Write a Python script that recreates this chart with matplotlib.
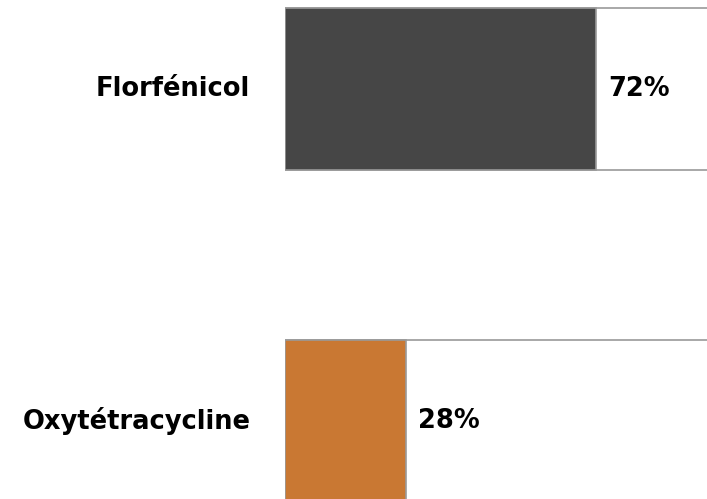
import matplotlib
matplotlib.use("Agg")
import matplotlib.pyplot as plt

# share of antibiotic use
categories = ["Florfénicol", "Oxytétracycline"]
values = [72, 28]
colors = ["#464646", "#c97833"]

W, H = 707, 499
fig = plt.figure(figsize=(W / 100, H / 100), dpi=100)

# x: 0 -> px 285, 100 -> px 717 (runs past the right edge)
left, right = 285, 717
ax = fig.add_axes([left / W, 0, (right - left) / W, 1])

ypos = list(range(len(categories)))
bar_h = 162 / 332

ax.barh(ypos, [100] * len(values), height=bar_h, color="white",
        edgecolor="#9a9a9a", linewidth=1.2, zorder=1)
ax.barh(ypos, values, height=bar_h, color=colors,
        edgecolor="#9a9a9a", linewidth=1.2, zorder=2)

for y, v, name in zip(ypos, values, categories):
    ax.annotate(f"{v}%", xy=(v, y), xytext=(9, 0), textcoords="offset points",
                ha="left", va="center", fontsize=18.5, fontweight="bold",
                color="black", zorder=3)
    ax.annotate(name, xy=(0, y), xytext=(-25, 0), textcoords="offset points",
                ha="right", va="center", fontsize=18.5, fontweight="bold",
                color="black", annotation_clip=False)

ax.set_xlim(0, 100)
ax.set_ylim((499 - 89) / 332, -89 / 332)
ax.axis("off")

fig.savefig("out.png", dpi=100)
